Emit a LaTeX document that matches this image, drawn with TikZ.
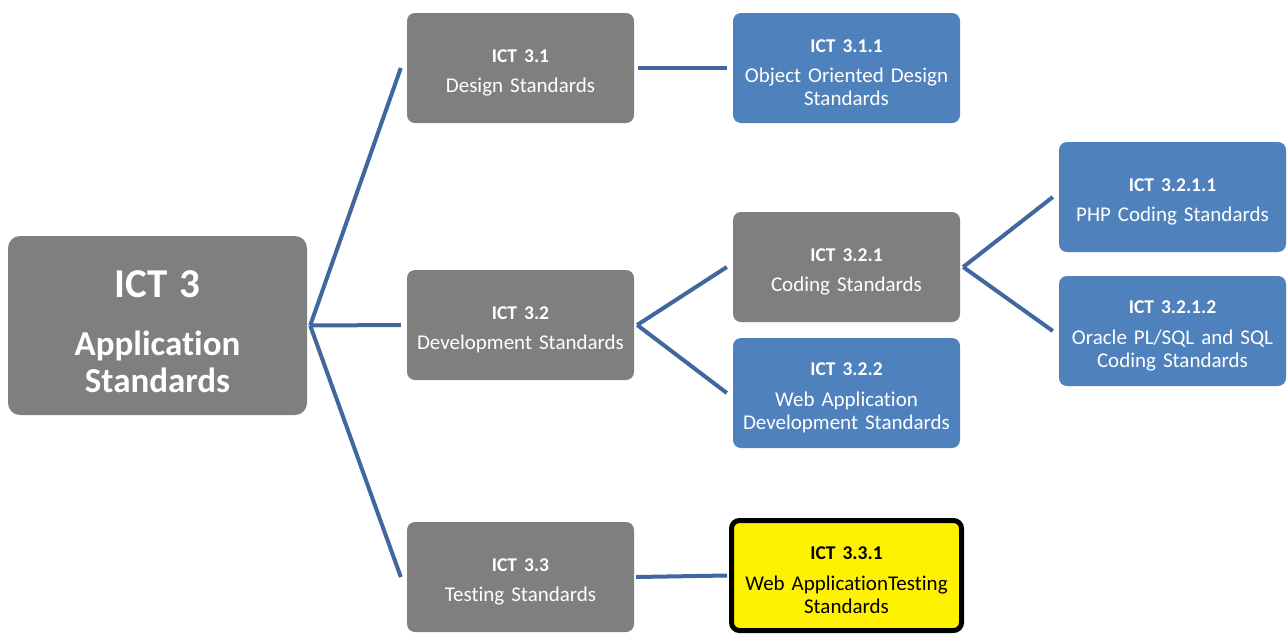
\documentclass[tikz,border=0pt]{standalone}
\usepackage{fontspec}
\setmainfont{Carlito}[Ligatures=NoCommon]
\definecolor{boxgray}{RGB}{127,127,127}
\definecolor{boxblue}{RGB}{79,129,189}
\definecolor{linkblue}{RGB}{64,104,158}
\newcommand{\boxtitle}[1]{{\bfseries\fontsize{19.5}{23}\selectfont #1}\\[7.5pt]}
\tikzset{
	item/.style={rectangle, rounded corners=8pt, fill=boxgray, text=white,
		minimum width=227pt, minimum height=110pt, text width=224pt,
		align=center, inner sep=0pt, font=\fontsize{21}{23}\selectfont,
		execute at begin node={\rule{0pt}{22.5pt}}},
	subitem/.style={item, fill=boxblue},
	pick/.style={item, fill=yellow, text=black, draw=black, line width=5pt,
		minimum width=230pt, minimum height=110pt},
	link/.style={draw=linkblue, line width=4pt}
}
\begin{document}
\begin{tikzpicture}[x=1pt,y=-1pt]
	\useasboundingbox (0,0) rectangle (1288,633);
	% root
	\node[item, rounded corners=12pt, minimum width=299pt, minimum height=179pt, text width=295pt,
		font=\bfseries\fontsize{35}{37}\selectfont, execute at begin node={\rule{0pt}{40pt}}] (root) at (157.5,325.5)
		{{\fontsize{41}{41}\selectfont ICT 3}\\[21pt]Application\\Standards};
	% level 1
	\node[item] (d1) at (520.5,68) {\boxtitle{ICT 3.1}Design Standards};
	\node[item] (d2) at (520.5,325) {\boxtitle{ICT 3.2}Development Standards};
	\node[item] (d3) at (520.5,577) {\boxtitle{ICT 3.3}Testing Standards};
	% level 2
	\node[subitem] (d11) at (846.5,68) {\boxtitle{ICT 3.1.1}Object Oriented Design\\Standards};
	\node[item] (d21) at (846.5,267) {\boxtitle{ICT 3.2.1}Coding Standards};
	\node[subitem] (d22) at (846.5,393) {\boxtitle{ICT 3.2.2}Web Application\\Development Standards};
	\node[pick] (d31) at (846.5,575.5) {\boxtitle{ICT 3.3.1}Web ApplicationTesting\\Standards};
	% level 3
	\node[subitem] (d211) at (1172.5,197) {\boxtitle{ICT 3.2.1.1}PHP Coding Standards};
	\node[subitem] (d212) at (1172.5,331) {\boxtitle{ICT 3.2.1.2}Oracle PL/SQL and SQL\\Coding Standards};
	% connectors
	\draw[link] ([xshift=3pt]root.east) -- ([xshift=-6pt]d1.west);
	\draw[link] ([xshift=3pt]root.east) -- ([xshift=-6pt]d2.west);
	\draw[link] ([xshift=3pt]root.east) -- ([xshift=-6pt]d3.west);
	\draw[link] ([xshift=4pt]d1.east) -- ([xshift=-6pt]d11.west);
	\draw[link] ([xshift=3pt]d2.east) -- ([xshift=-6pt]d21.west);
	\draw[link] ([xshift=3pt]d2.east) -- ([xshift=-6pt]d22.west);
	\draw[link] ([xshift=2pt]d3.east) -- ([xshift=-2pt]d31.west);
	\draw[link] ([xshift=3pt]d21.east) -- ([xshift=-6pt]d211.west);
	\draw[link] ([xshift=3pt]d21.east) -- ([xshift=-6pt]d212.west);
\end{tikzpicture}
\end{document}
